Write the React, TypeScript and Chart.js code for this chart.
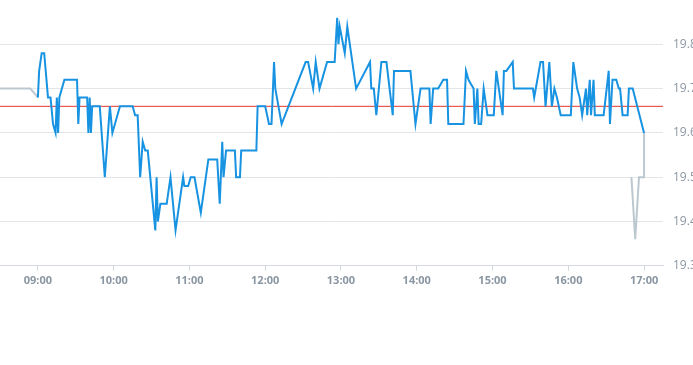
import React, { useEffect, useRef } from "react";
import { Chart, registerables } from "chart.js";

Chart.register(...registerables);

// ---- data ----
const hourTicks = ["09:00", "10:00", "11:00", "12:00", "13:00", "14:00", "15:00", "16:00", "17:00"];
const priceTicks = [19.3, 19.4, 19.5, 19.6, 19.7, 19.8];
const prevClose = 19.66;

const preTimes = ["08:30", "08:54", "09:00"];
const preValues = [19.7, 19.7, 19.68];

const mainTimes = [
  "09:00", "09:01", "09:03", "09:05", "09:08", "09:10", "09:12", "09:14", "09:15", "09:16",
  "09:17", "09:21", "09:31", "09:32", "09:33", "09:39", "09:40", "09:41", "09:42", "09:43",
  "09:49", "09:53", "09:57", "09:59", "10:05", "10:15", "10:17", "10:19", "10:21", "10:23",
  "10:25", "10:27", "10:33", "10:34", "10:35", "10:37", "10:42", "10:45", "10:49", "10:55",
  "10:56", "10:59", "11:01", "11:04", "11:09", "11:12", "11:15", "11:22", "11:24", "11:26",
  "11:27", "11:29", "11:36", "11:37", "11:40", "11:41", "11:53", "11:54", "12:00", "12:03",
  "12:05", "12:07", "12:08", "12:13", "12:32", "12:34", "12:38", "12:40", "12:43", "12:49",
  "12:55", "12:57", "12:58", "12:59", "13:03", "13:05", "13:08", "13:12", "13:23", "13:24",
  "13:26", "13:28", "13:32", "13:36", "13:41", "13:42", "13:55", "13:59", "14:03", "14:10",
  "14:11", "14:13", "14:17", "14:21", "14:24", "14:25", "14:37", "14:39", "14:41", "14:43",
  "14:45", "14:46", "14:48", "14:49", "14:51", "14:53", "14:56", "15:01", "15:03", "15:08",
  "15:09", "15:11", "15:16", "15:17", "15:32", "15:33", "15:38", "15:40", "15:42", "15:45",
  "15:47", "15:49", "15:51", "15:54", "16:02", "16:04", "16:06", "16:07", "16:09", "16:11",
  "16:14", "16:15", "16:17", "16:18", "16:20", "16:21", "16:28", "16:32", "16:33", "16:35",
  "16:38", "16:40", "16:41", "16:43", "16:47", "16:48", "16:51", "17:00",
];
const mainValues = [
  19.68, 19.74, 19.78, 19.78, 19.68, 19.68, 19.62, 19.6, 19.68, 19.6,
  19.68, 19.72, 19.72, 19.62, 19.68, 19.68, 19.6, 19.68, 19.6, 19.66,
  19.66, 19.5, 19.66, 19.6, 19.66, 19.66, 19.64, 19.64, 19.5, 19.58,
  19.56, 19.56, 19.38, 19.5, 19.4, 19.44, 19.44, 19.5, 19.38, 19.5,
  19.48, 19.48, 19.5, 19.5, 19.42, 19.48, 19.54, 19.54, 19.44, 19.58,
  19.5, 19.56, 19.56, 19.5, 19.5, 19.56, 19.56, 19.66, 19.66, 19.62,
  19.62, 19.76, 19.7, 19.62, 19.76, 19.76, 19.7, 19.76, 19.7, 19.76,
  19.76, 19.86, 19.8, 19.84, 19.78, 19.84, 19.78, 19.7, 19.76, 19.7,
  19.7, 19.64, 19.76, 19.76, 19.64, 19.74, 19.74, 19.62, 19.7, 19.7,
  19.62, 19.7, 19.7, 19.72, 19.72, 19.62, 19.62, 19.74, 19.72, 19.71,
  19.7, 19.62, 19.7, 19.62, 19.62, 19.7, 19.64, 19.64, 19.74, 19.64,
  19.74, 19.74, 19.76, 19.7, 19.7, 19.68, 19.76, 19.76, 19.66, 19.76,
  19.66, 19.7, 19.68, 19.64, 19.64, 19.76, 19.72, 19.7, 19.68, 19.64,
  19.7, 19.64, 19.72, 19.64, 19.72, 19.64, 19.64, 19.74, 19.62, 19.72,
  19.72, 19.7, 19.7, 19.64, 19.64, 19.7, 19.7, 19.6,
];

const postTimes = ["16:50", "16:53", "16:56", "17:00", "17:00"];
const postValues = [19.5, 19.36, 19.5, 19.5, 19.6];

const axisStart = "08:30";
const axisEnd = "17:15";

// ---- helpers ----
const toMin = (s: string) => {
  const [h, m] = s.split(":").map(Number);
  return h * 60 + m;
};
const fmt = (v: number) =>
  `${String(Math.floor(v / 60)).padStart(2, "0")}:${String(Math.round(v % 60)).padStart(2, "0")}`;
const pts = (t: string[], v: number[]) => t.map((s, i) => ({ x: toMin(s), y: v[i] }));

const labelColor = "#8a96a2";
const gridColor = "#e3e6e8";

export default function App() {
  const ref = useRef<HTMLCanvasElement | null>(null);

  useEffect(() => {
    document.body.style.margin = "0";
    const ctx = ref.current!.getContext("2d")!;
    const chart = new Chart(ctx, {
      type: "line",
      data: {
        datasets: [
          {
            data: pts(mainTimes, mainValues),
            borderColor: "#1793e2",
            borderWidth: 2,
            pointRadius: 0,
            tension: 0,
            fill: false,
          },
          {
            data: pts(preTimes, preValues),
            borderColor: "#bcc8d0",
            borderWidth: 2,
            pointRadius: 0,
            fill: false,
          },
          {
            data: pts(postTimes, postValues),
            borderColor: "#bcc8d0",
            borderWidth: 2,
            pointRadius: 0,
            fill: false,
          },
          {
            data: [
              { x: toMin(axisStart), y: prevClose },
              { x: toMin(axisEnd), y: prevClose },
            ],
            borderColor: "#e3352b",
            borderWidth: 1,
            pointRadius: 0,
            fill: false,
          },
        ],
      },
      options: {
        animation: false,
        responsive: true,
        maintainAspectRatio: false,
        events: [],
        layout: { padding: { left: 0, right: 0, top: 0, bottom: 75 } },
        plugins: { legend: { display: false }, tooltip: { enabled: false } },
        scales: {
          x: {
            type: "linear",
            min: toMin(axisStart),
            max: toMin(axisEnd),
            afterBuildTicks: (scale: any) => {
              scale.ticks = hourTicks.map((h) => ({ value: toMin(h) }));
            },
            afterFit: (scale: any) => {
              scale.paddingLeft = 0;
              scale.paddingRight = 0;
            },
            grid: {
              drawOnChartArea: false,
              drawTicks: true,
              tickLength: 5,
              color: "#d3d9de",
            },
            border: { display: true, color: "#d3d9de" },
            ticks: {
              autoSkip: false,
              maxRotation: 0,
              padding: 3,
              color: labelColor,
              font: { family: "'Open Sans', sans-serif", size: 11, weight: "bold" as any },
              callback: (v: any) => fmt(Number(v)),
            },
          },
          y: {
            position: "right",
            min: 19.3,
            max: 19.9,
            afterBuildTicks: (scale: any) => {
              scale.ticks = priceTicks.map((p) => ({ value: p }));
            },
            afterFit: (scale: any) => {
              scale.width = 30;
              scale.paddingTop = 0;
              scale.paddingBottom = 0;
            },
            grid: { color: gridColor, drawTicks: false },
            border: { display: false },
            ticks: {
              padding: 10,
              color: labelColor,
              font: { family: "'Open Sans', sans-serif", size: 12 },
              callback: (v: any) => Number(v).toFixed(1),
            },
          },
        },
      },
    } as any);
    return () => chart.destroy();
  }, []);

  return (
    <div style={{ width: 693, height: 365, position: "relative" }}>
      <canvas ref={ref} />
    </div>
  );
}
